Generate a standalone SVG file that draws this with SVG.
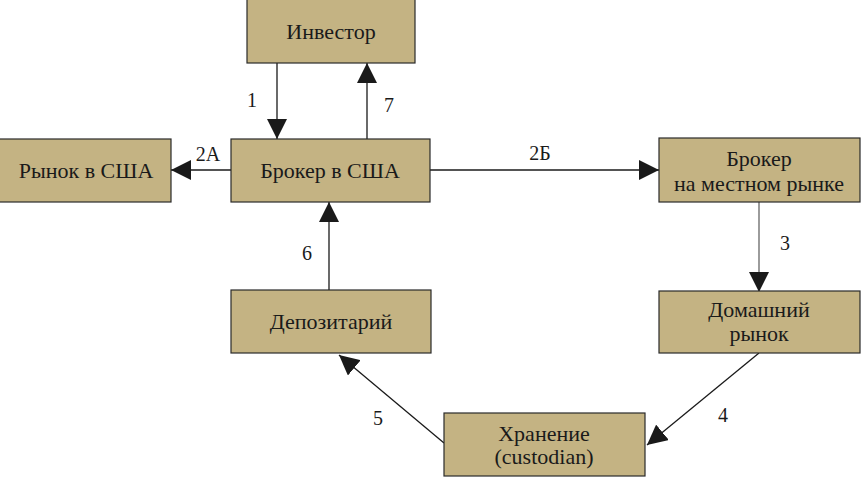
<svg xmlns="http://www.w3.org/2000/svg" width="861" height="477" viewBox="0 0 861 477" font-family="Liberation Serif, Times New Roman, serif">
<defs>
<style>
.box{fill:#c4b383;stroke:#2a2a2a;stroke-width:1.2}
.t{font-size:22px;fill:#1a1a1a;text-anchor:middle}
.n{font-size:20px;fill:#1a1a1a;text-anchor:middle}
.c{stroke:#1a1a1a;stroke-width:1.3;fill:none;marker-end:url(#ah)}
</style>
<marker id="ah" viewBox="0 0 20 20" refX="20" refY="10" markerWidth="20" markerHeight="20" markerUnits="userSpaceOnUse" orient="auto">
<path d="M0,0 L20,10 L0,20 Z" fill="#1a1a1a"/>
</marker>
</defs>
<rect width="861" height="477" fill="#ffffff"/>
<g id="connectors">
<line class="c" x1="277" y1="63" x2="277" y2="139"/>
<line class="c" x1="367" y1="139" x2="367" y2="63"/>
<line class="c" x1="231" y1="170" x2="171" y2="170"/>
<line class="c" x1="430" y1="170" x2="659" y2="170"/>
<line class="c" x1="759" y1="202" x2="759" y2="292" style="stroke:#666"/>
<line class="c" x1="759" y1="353" x2="647" y2="445"/>
<line class="c" x1="444" y1="443" x2="339" y2="355"/>
<line class="c" x1="329" y1="290" x2="329" y2="202"/>
<text class="n" x="252" y="107">1</text>
<text class="n" x="389" y="112">7</text>
<text class="n" x="208" y="161">2А</text>
<text class="n" x="540" y="160">2Б</text>
<text class="n" x="785" y="250">3</text>
<text class="n" x="723" y="422">4</text>
<text class="n" x="378" y="425">5</text>
<text class="n" x="307" y="260">6</text>
</g>
<g id="investor">
<rect class="box" x="247" y="-1" width="168" height="64"/>
<text class="t" x="331" y="39">Инвестор</text>
</g>
<g id="broker-us">
<rect class="box" x="231" y="139" width="199" height="63"/>
<text class="t" x="330" y="178">Брокер в США</text>
</g>
<g id="market-us">
<rect class="box" x="-1" y="139" width="172" height="63"/>
<text class="t" x="86" y="178">Рынок в США</text>
</g>
<g id="broker-local">
<rect class="box" x="659" y="138" width="201" height="64"/>
<text class="t" x="759" y="166">Брокер</text>
<text class="t" x="759" y="191">на местном рынке</text>
</g>
<g id="home-market">
<rect class="box" x="659" y="291" width="201" height="62"/>
<text class="t" x="759" y="317">Домашний</text>
<text class="t" x="759" y="341">рынок</text>
</g>
<g id="depositary">
<rect class="box" x="231" y="290" width="200" height="63"/>
<text class="t" x="331" y="329">Депозитарий</text>
</g>
<g id="custodian">
<rect class="box" x="444" y="413" width="201" height="63"/>
<text class="t" x="544" y="441">Хранение</text>
<text class="t" x="544" y="464">(custodian)</text>
</g>
</svg>
